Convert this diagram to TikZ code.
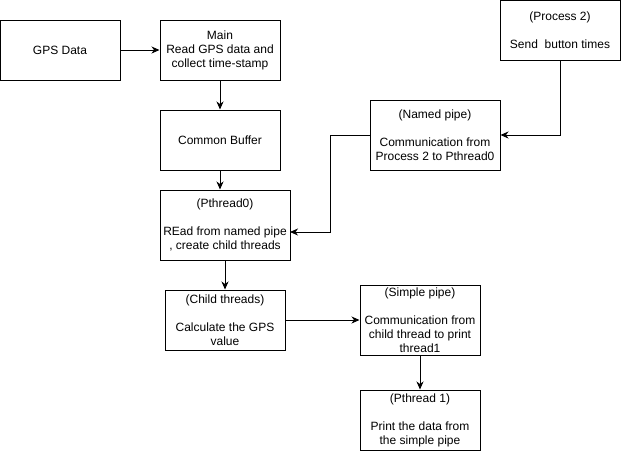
\documentclass[tikz,border=0pt]{standalone}
\usepackage{fontspec}
\setmainfont{Liberation Sans}
\usepackage{tikz}
\usetikzlibrary{arrows.meta,positioning,calc}

\begin{document}
\begin{tikzpicture}[x=1pt,y=-1pt,
    box/.style={draw,line width=1pt,inner sep=0pt,align=center,
        font=\fontsize{12}{14}\selectfont},
    arr/.style={line width=1pt,-{Stealth[length=8pt,width=7pt,inset=2.5pt]}}]
    \useasboundingbox (0,0) rectangle (621,451);

    % Left column: data, main and buffer
    \node[box,minimum width=120,minimum height=60] (gps) at (60,50) {GPS Data};
    \node[box,minimum width=120,minimum height=60] (main) at (220,50) {Main\\Read GPS data and\\collect time-stamp};
    \node[box,minimum width=120,minimum height=60] (cbuf) at (220,140) {Common Buffer};
    \node[box,minimum width=130,minimum height=70] (pth0) at (225,225) {(Pthread0)\\[14pt]REad from named pipe\\, create child threads};
    \node[box,minimum width=120,minimum height=60] (child) at (225,320) {(Child threads)\\[14pt]Calculate the GPS\\value};

    % Right side: second process and pipes
    \node[box,minimum width=120,minimum height=60] (proc2) at (560,30.5) {(Process 2)\\[14pt]Send~ button times};
    \node[box,minimum width=130,minimum height=70] (npipe) at (435,135) {(Named pipe)\\[14pt]Communication from\\Process 2 to Pthread0};
    \node[box,minimum width=120,minimum height=70] (spipe) at (420,320) {(Simple pipe)\\[14pt]Communication from\\child thread to print\\thread1};
    \node[box,minimum width=120,minimum height=60] (pth1) at (420,420) {(Pthread 1)\\[14pt]Print the data from\\the simple pipe};

    % Connectors
    \coordinate (pth0in) at (290,232);
    \draw[arr] (gps.east) -- (main.west);
    \draw[arr] (main.south) -- (cbuf.north);
    \draw[arr] (cbuf.south) -- (cbuf.south |- pth0.north);
    \draw[arr] (proc2.south) |- (npipe.east);
    \draw[arr] (npipe.west) -- ++(-39,0) |- (pth0in);
    \draw[arr] (pth0.south) -- (child.north);
    \draw[arr] (child.east) -- (spipe.west);
    \draw[arr] (spipe.south) -- (pth1.north);
\end{tikzpicture}
\end{document}
